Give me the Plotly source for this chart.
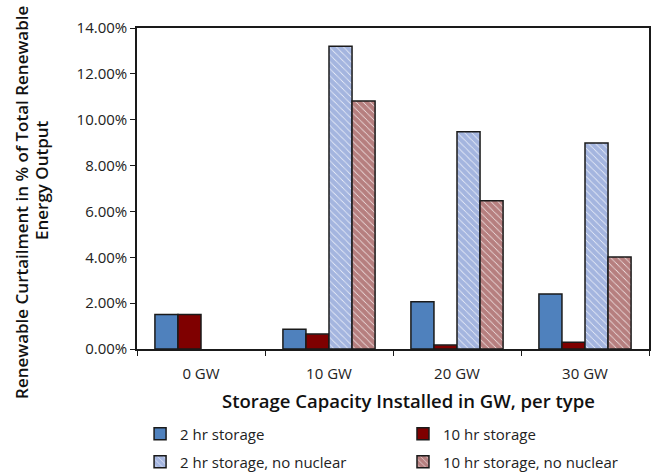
import plotly.graph_objects as go

# Storage capacity categories (GW installed per storage type)
categories = ["0 GW", "10 GW", "20 GW", "30 GW"]

# Renewable curtailment, % of total renewable energy output
storage_2hr = [1.50, 0.86, 2.06, 2.40]
storage_10hr = [1.50, 0.65, 0.17, 0.29]
storage_2hr_no_nuclear = [None, 13.20, 9.48, 8.98]
storage_10hr_no_nuclear = [None, 10.82, 6.47, 4.01]

y_ticks = [0, 2, 4, 6, 8, 10, 12, 14]
y_tick_text = [f"{v:.2f}%" for v in y_ticks]

FONT = "Open Sans"
OUTLINE = dict(color="#1a1a1a", width=1.5)
TITLE_FONT = dict(family=FONT, size=17.5, color="#111", weight=600)

fig = go.Figure()

fig.add_trace(go.Bar(
    name="2 hr storage", x=categories, y=storage_2hr,
    marker=dict(color="#4f81bd", line=OUTLINE), legend="legend",
))
fig.add_trace(go.Bar(
    name="10 hr storage", x=categories, y=storage_10hr,
    marker=dict(color="#7f0000", line=OUTLINE), legend="legend2",
))
# Hatched bars: diagonal stripes on white
fig.add_trace(go.Bar(
    name="2 hr storage, no nuclear", x=categories, y=storage_2hr_no_nuclear,
    marker=dict(color="white", line=OUTLINE,
                pattern=dict(shape="\\", fgcolor="#4a6cc0", bgcolor="white",
                             size=5, solidity=0.9)),
    legend="legend3",
))
fig.add_trace(go.Bar(
    name="10 hr storage, no nuclear", x=categories, y=storage_10hr_no_nuclear,
    marker=dict(color="white", line=OUTLINE,
                pattern=dict(shape="\\", fgcolor="#6e0000", bgcolor="white",
                             size=5, solidity=0.9)),
    legend="legend4",
))

# One legend per entry so the 2x2 grid sits exactly where wanted
legend_common = dict(
    orientation="h", xanchor="left", yanchor="middle",
    font=dict(family=FONT, size=15, color="#222"),
    bgcolor="rgba(0,0,0,0)",
)
col_x = [0.006, 0.5195]
row_y = [-0.265, -0.352]

# Two-line vertical y title, each line placed on its own
y_title_lines = ["Renewable Curtailment in % of Total Renewable", "Energy Output"]
y_title_pos = [(-0.2246, 0.455), (-0.1855, 0.5265)]

fig.update_layout(
    width=654, height=474,
    margin=dict(l=137, r=5, t=28, b=125, autoexpand=False),
    paper_bgcolor="white", plot_bgcolor="white",
    showlegend=True,
    barmode="group", bargap=0.28, bargroupgap=0,
    font=dict(family=FONT, color="#222"),
    legend=dict(x=col_x[0], y=row_y[0], **legend_common),
    legend2=dict(x=col_x[1], y=row_y[0], **legend_common),
    legend3=dict(x=col_x[0], y=row_y[1], **legend_common),
    legend4=dict(x=col_x[1], y=row_y[1], **legend_common),
    xaxis=dict(
        showline=True, linecolor="#1a1a1a", linewidth=1.5, mirror=True,
        ticks="outside", ticklen=5, tickcolor="#1a1a1a", tickson="boundaries",
        ticklabelstandoff=10,
        tickfont=dict(family=FONT, size=15, color="#222"),
        showgrid=False, automargin=False,
    ),
    yaxis=dict(
        range=[0, 14], tickvals=y_ticks, ticktext=y_tick_text,
        showline=True, linecolor="#1a1a1a", linewidth=1.5, mirror=True,
        ticks="outside", ticklen=5, tickcolor="#1a1a1a",
        tickfont=dict(family=FONT, size=15, color="#222"),
        showgrid=False, zeroline=False, automargin=False,
    ),
)

for text, (ax, ay) in zip(y_title_lines, y_title_pos):
    fig.add_annotation(
        text=text, xref="paper", yref="paper", x=ax, y=ay,
        xanchor="center", yanchor="middle", textangle=-90,
        showarrow=False, font=dict(TITLE_FONT, size=17),
    )

fig.add_annotation(
    text="Storage Capacity Installed in GW, per type",
    xref="paper", yref="paper", x=0.531, y=-0.159,
    xanchor="center", yanchor="middle", showarrow=False,
    font=dict(TITLE_FONT, size=18.5),
)

fig.write_html("out.html")
